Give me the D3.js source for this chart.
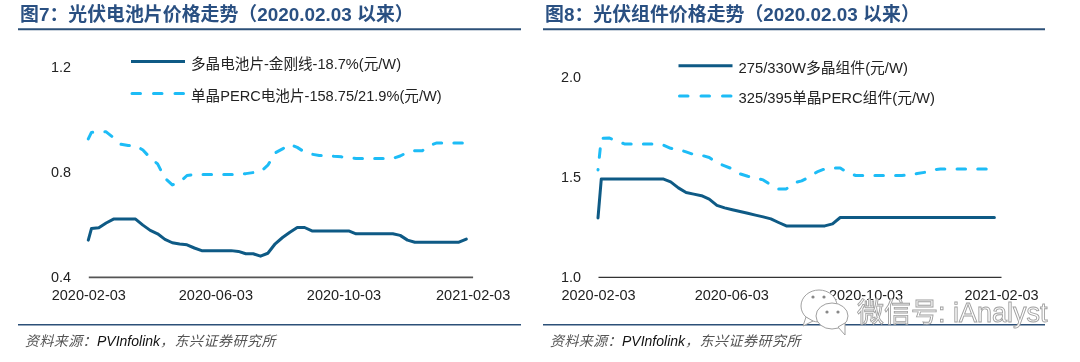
<!DOCTYPE html>
<html>
<head>
<meta charset="utf-8">
<script src="https://cdn.jsdelivr.net/npm/d3@7"></script>
<style>
  html, body { margin: 0; padding: 0; background: #fff; }
  svg { display: block; filter: blur(0.35px); }
  text { font-family: "Liberation Sans", "Noto Sans CJK SC", sans-serif; }
</style>
</head>
<body>
<div id="chart"></div>
<script>
// weekly price dates, same for both panels
var dates = [
  "2020-02-03", "2020-02-06", "2020-02-13", "2020-02-20", "2020-02-27", "2020-03-05", "2020-03-12", "2020-03-19",
  "2020-03-26", "2020-04-02", "2020-04-09", "2020-04-16", "2020-04-23", "2020-04-30", "2020-05-07", "2020-05-14",
  "2020-05-21", "2020-05-28", "2020-06-04", "2020-06-11", "2020-06-18", "2020-06-25", "2020-07-02", "2020-07-09",
  "2020-07-16", "2020-07-23", "2020-07-30", "2020-08-06", "2020-08-13", "2020-08-20", "2020-08-27", "2020-09-03",
  "2020-09-10", "2020-09-17", "2020-09-24", "2020-10-01", "2020-10-08", "2020-10-15", "2020-10-22", "2020-10-29",
  "2020-11-05", "2020-11-12", "2020-11-19", "2020-11-26", "2020-12-03", "2020-12-10", "2020-12-17", "2020-12-24",
  "2020-12-31", "2021-01-07", "2021-01-14", "2021-01-21", "2021-01-28"
];
var dateTicks = ["2020-02-03", "2020-06-03", "2020-10-03", "2021-02-03"];

// Figure 7: cell prices
var polyCell = [
  0.54, 0.584, 0.587, 0.605, 0.62, 0.62, 0.62, 0.62, 0.597, 0.577, 0.564, 0.543, 0.53, 0.525, 0.522, 0.51,
  0.5, 0.5, 0.5, 0.5, 0.5, 0.497, 0.488, 0.488, 0.479, 0.49, 0.526, 0.55, 0.57, 0.588, 0.588, 0.575,
  0.575, 0.575, 0.575, 0.575, 0.575, 0.564, 0.564, 0.564, 0.564, 0.564, 0.564, 0.558, 0.54, 0.532, 0.532, 0.532,
  0.532, 0.532, 0.532, 0.532, 0.544
];
var monoCell = [
  0.925, 0.95, 0.952, 0.952, 0.93, 0.905, 0.9, 0.9, 0.883, 0.853, 0.83, 0.776, 0.75, 0.76, 0.786, 0.79,
  0.79, 0.79, 0.79, 0.79, 0.79, 0.79, 0.793, 0.797, 0.8, 0.825, 0.872, 0.887, 0.905, 0.893, 0.875, 0.867,
  0.862, 0.862, 0.859, 0.857, 0.853, 0.851, 0.851, 0.851, 0.851, 0.851, 0.851, 0.86, 0.875, 0.88, 0.88, 0.9,
  0.91, 0.91, 0.91, 0.91, 0.91
];
var cellTicks = [0.4, 0.8, 1.2];

// Figure 8: module prices
var polyModule = [
  1.295, 1.49, 1.49, 1.49, 1.49, 1.49, 1.49, 1.49, 1.49, 1.49, 1.475, 1.445, 1.422, 1.414, 1.406, 1.389,
  1.358, 1.345, 1.336, 1.327, 1.318, 1.309, 1.3, 1.29, 1.272, 1.255, 1.255, 1.255, 1.255, 1.255, 1.255, 1.265,
  1.297, 1.297, 1.297, 1.297, 1.297, 1.297, 1.297, 1.297, 1.297, 1.297, 1.297, 1.297, 1.297, 1.297, 1.297, 1.297,
  1.297, 1.297, 1.297, 1.297, 1.297
];
var monoModule = [
  1.535, 1.692, 1.695, 1.68, 1.665, 1.665, 1.665, 1.665, 1.665, 1.66, 1.643, 1.637, 1.625, 1.612, 1.608, 1.597,
  1.57, 1.555, 1.54, 1.515, 1.503, 1.495, 1.485, 1.46, 1.44, 1.44, 1.47, 1.48, 1.5, 1.525, 1.54, 1.545,
  1.545, 1.52, 1.507, 1.507, 1.507, 1.507, 1.507, 1.507, 1.507, 1.51, 1.517, 1.523, 1.535, 1.54, 1.54, 1.54,
  1.54, 1.54, 1.54, 1.54, 1.54
];
var moduleTicks = [1.0, 1.5, 2.0];

var parseDate = d3.timeParse("%Y-%m-%d");
var darkBlue = "#0e5a85";
var lightBlue = "#1dbcf6";
var ruleColor = "#2c5078";

var svg = d3.select("#chart").append("svg")
  .attr("width", 1080)
  .attr("height", 362);

function drawPanel(p) {
  var g = svg.append("g");

  // title and the two rules
  g.append("text")
    .attr("x", p.ruleLeft + 2)
    .attr("y", 20.5)
    .attr("font-size", p.titleSize)
    .attr("font-weight", "bold")
    .attr("fill", "#2a5082")
    .text(p.title);
  g.append("line").attr("x1", p.ruleLeft).attr("x2", p.ruleRight)
    .attr("y1", 29.3).attr("y2", 29.3)
    .attr("stroke", ruleColor).attr("stroke-width", 2);
  g.append("line").attr("x1", p.ruleLeft).attr("x2", p.ruleRight)
    .attr("y1", 324.7).attr("y2", 324.7)
    .attr("stroke", ruleColor).attr("stroke-width", 1.6);

  // scales
  var x = d3.scaleTime()
    .domain([parseDate(dateTicks[0]), parseDate(dateTicks[3])])
    .range(p.xRange);
  var y = d3.scaleLinear()
    .domain(p.yDomain)
    .range([276.9, p.yTop]);

  // x axis
  var xAxis = d3.axisBottom(x)
    .tickValues(dateTicks.map(parseDate))
    .tickSize(0)
    .tickPadding(12.5)
    .tickFormat(d3.timeFormat("%Y-%m-%d"));
  var xg = g.append("g")
    .attr("transform", "translate(0,276.9)")
    .call(xAxis);
  xg.select(".domain").attr("stroke", p.axisColor).attr("stroke-width", p.axisWidth);
  xg.selectAll("text").attr("font-size", 14.5).attr("fill", "#222")
    .attr("font-family", "Liberation Sans");

  // y axis, no line
  var yAxis = d3.axisLeft(y)
    .tickValues(p.yTicks)
    .tickSize(0)
    .tickPadding(0)
    .tickFormat(d3.format(".1f"));
  var yg = g.append("g")
    .attr("transform", "translate(" + p.yLabelX + ",0)")
    .call(yAxis);
  yg.select(".domain").remove();
  yg.selectAll("text").attr("font-size", 14.4).attr("fill", "#222")
    .attr("font-family", "Liberation Sans");

  var line = d3.line()
    .x(function (d, i) { return x(parseDate(dates[i])); })
    .y(function (d) { return y(d); });

  g.append("path").datum(p.poly)
    .attr("fill", "none")
    .attr("stroke", darkBlue)
    .attr("stroke-width", 3)
    .attr("stroke-linejoin", "round")
    .attr("stroke-linecap", "round")
    .attr("d", line);

  g.append("path").datum(p.mono)
    .attr("fill", "none")
    .attr("stroke", lightBlue)
    .attr("stroke-width", 3)
    .attr("stroke-linecap", "round")
    .attr("stroke-linejoin", "round")
    .attr("stroke-dasharray", "8.5 12.2")
    .attr("stroke-dashoffset", p.dashOffset)
    .attr("d", line);

  // legend
  g.append("line").attr("x1", p.legendX).attr("x2", p.legendX + 54)
    .attr("y1", p.legendY[0]).attr("y2", p.legendY[0])
    .attr("stroke", darkBlue).attr("stroke-width", 3);
  g.append("line").attr("x1", p.legendX + 1).attr("x2", p.legendX + 54)
    .attr("y1", p.legendY[1]).attr("y2", p.legendY[1])
    .attr("stroke", lightBlue).attr("stroke-width", 3)
    .attr("stroke-linecap", "round")
    .attr("stroke-dasharray", "8.5 13");
  p.legend.forEach(function (name, i) {
    g.append("text")
      .attr("x", p.legendX + 60)
      .attr("y", p.legendY[i] + 7)
      .attr("font-size", p.legendSize)
      .attr("fill", "#222")
      .text(name);
  });

  // source note
  var note = g.append("text")
    .attr("x", p.ruleLeft + 7)
    .attr("y", 345.5)
    .attr("font-size", 14)
    .attr("font-style", "italic")
    .attr("fill", "#555");
  note.append("tspan").attr("letter-spacing", 0.4).text("资料来源：");
  note.append("tspan").attr("fill", "#111").text("PVInfolink");
  note.append("tspan").attr("letter-spacing", 0.5).text("，东兴证券研究所");
}

drawPanel({
  title: "图7：光伏电池片价格走势（2020.02.03 以来）",
  titleSize: 18.9,
  ruleLeft: 18,
  ruleRight: 521,
  xRange: [88.3, 472.6],
  yDomain: [0.4, 1.2],
  yTop: 66.7,
  yTicks: cellTicks,
  yLabelX: 71,
  axisColor: "#555",
  axisWidth: 1.6,
  poly: polyCell,
  mono: monoCell,
  dashOffset: 0,
  legendX: 131,
  legendY: [61.5, 93.5],
  legendSize: 14.6,
  legend: ["多晶电池片-金刚线-18.7%(元/W)", "单晶PERC电池片-158.75/21.9%(元/W)"]
});

drawPanel({
  title: "图8：光伏组件价格走势（2020.02.03 以来）",
  titleSize: 18.9,
  ruleLeft: 543,
  ruleRight: 1045,
  xRange: [598, 1001],
  yDomain: [1.0, 2.0],
  yTop: 76.9,
  yTicks: moduleTicks,
  yLabelX: 581,
  axisColor: "#333",
  axisWidth: 1.2,
  poly: polyModule,
  mono: monoModule,
  dashOffset: 8,
  legendX: 678.5,
  legendY: [65.7, 96],
  legendSize: 14.8,
  legend: ["275/330W多晶组件(元/W)", "325/395单晶PERC组件(元/W)"]
});

// WeChat watermark over the right panel
var mark = svg.append("g")
  .attr("fill", "#fff")
  .attr("stroke", "#a0a0a0")
  .attr("stroke-width", 1);
mark.append("ellipse").attr("cx", 819).attr("cy", 306).attr("rx", 18).attr("ry", 16);
mark.append("path").attr("d", "M806 317 L803 326 L813 321 Z");
mark.append("ellipse").attr("cx", 832).attr("cy", 316).attr("rx", 16).attr("ry", 13);
mark.append("path").attr("d", "M838 327 L845 335 L845 323 Z");
[[813, 297], [824, 297], [827, 312], [838, 312]].forEach(function (e) {
  mark.append("circle").attr("cx", e[0]).attr("cy", e[1]).attr("r", 1.6)
    .attr("fill", "#888").attr("stroke", "none");
});
mark.append("text")
  .attr("x", 857)
  .attr("y", 322)
  .attr("font-size", 27)
  .attr("stroke-width", 0.9)
  .attr("font-family", "'Noto Sans CJK SC', 'Noto Sans', sans-serif")
  .text("微信号: iAnalyst");
</script>
</body>
</html>
